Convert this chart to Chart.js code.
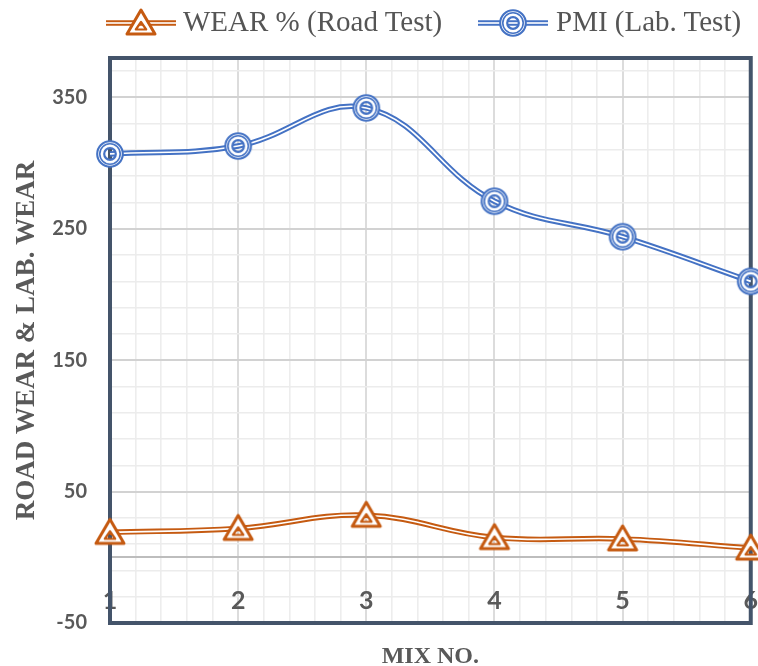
<!DOCTYPE html>
<html>
<head>
<meta charset="utf-8">
<script src="https://cdn.jsdelivr.net/npm/chart.js@4.4.1/dist/chart.umd.min.js"></script>
<style>
  html, body { margin: 0; padding: 0; background: #ffffff; }
  #wrap { position: relative; width: 758px; height: 666px; overflow: hidden; }
  #chart { position: absolute; left: 0; top: 0; }
  .lg-mark { position: absolute; top: 6px; }
  .lg-text { position: absolute; top: 5px; font: 29px "Liberation Serif", "Times New Roman", serif; line-height: 32px; color: #555555; white-space: nowrap; }
</style>
</head>
<body>
<div id="wrap">
  <canvas id="chart" width="758" height="666"></canvas>
  <div id="legend"></div>
</div>
<script>
// Mix numbers on the x axis
const mixNo = [1, 2, 3, 4, 5, 6];
// Road test wear (%) per mix
const wearRoad = [19, 22, 32, 15, 14, 7];
// Lab test PMI per mix
const pmiLab = [307, 313, 342, 271, 244, 210];
// Series names and labelled y ticks
const seriesNames = ['WEAR % (Road Test)', 'PMI (Lab. Test)'];
const yLabelTicks = [-50, 50, 150, 250, 350];

const ORANGE = '#c55a11';
const BLUE = '#4472c4';
const TEXT = '#595959';
const FRAME = '#44546a';

// Compound markers: outline shape with a smaller shape inside, white ring between
function makeMarker(shape, color) {
  const c = document.createElement('canvas');
  c.width = 36; c.height = 36;
  const g = c.getContext('2d');
  const cx = 18, cy = 18;
  g.strokeStyle = color;
  g.fillStyle = '#ffffff';
  g.lineJoin = 'round';
  if (shape === 'circle') {
    g.beginPath();
    g.arc(cx, cy, 12.5, 0, Math.PI * 2);
    g.arc(cx, cy, 5.8, 0, Math.PI * 2, true);
    g.fill('evenodd');
    g.lineWidth = 2.1;
    g.beginPath(); g.arc(cx, cy, 12.8, 0, Math.PI * 2); g.stroke();
    g.lineWidth = 1.6;
    g.beginPath(); g.arc(cx, cy, 10.2, 0, Math.PI * 2); g.stroke();
    g.lineWidth = 2.2;
    g.beginPath(); g.arc(cx, cy, 5.8, 0, Math.PI * 2); g.stroke();
  } else {
    const outer = [[cx, cy - 13], [cx + 14, cy + 11], [cx - 14, cy + 11]];
    const inner = [[cx, cy - 1], [cx + 5.2, cy + 6.5], [cx - 5.2, cy + 6.5]];
    const path = (pts) => { g.moveTo(pts[0][0], pts[0][1]); g.lineTo(pts[1][0], pts[1][1]); g.lineTo(pts[2][0], pts[2][1]); g.closePath(); };
    g.beginPath(); path(outer); path(inner); g.fill('evenodd');
    g.lineWidth = 3.0;
    g.beginPath(); path(outer); g.stroke();
    g.lineWidth = 2.2;
    g.beginPath(); path(inner); g.stroke();
  }
  return c;
}

const triMarker = makeMarker('triangle', ORANGE);
const circMarker = makeMarker('circle', BLUE);

const toPoints = (vals) => mixNo.map((m, i) => ({ x: m, y: vals[i] }));

const TENSION = 0.4;
function outerLine(label, vals, color, order) {
  return { label, data: toPoints(vals), borderColor: color, borderWidth: 5.5,
           pointRadius: 0, tension: TENSION, order, clip: false, fill: false };
}
function innerLine(label, vals, marker, order) {
  return { label, data: toPoints(vals), borderColor: '#ffffff', borderWidth: 1.6,
           pointStyle: marker, pointRadius: 12, tension: TENSION, order, clip: false, fill: false };
}

// y ticks every 20 from -50, plus the zero line
const yTickValues = [];
for (let v = -50; v <= 370; v += 20) yTickValues.push(v);
yTickValues.push(0);
yTickValues.sort((a, b) => a - b);

// x ticks every fifth of a mix step
const xTickValues = [];
for (let k = 0; k <= 25; k++) xTickValues.push(Math.round((1 + k * 0.2) * 10) / 10);

const framePlugin = {
  id: 'plotFrame',
  beforeDatasetsDraw(chart) {
    const { ctx, chartArea: a } = chart;
    ctx.save();
    ctx.strokeStyle = FRAME;
    ctx.lineWidth = 4;
    ctx.strokeRect(a.left, a.top, a.right - a.left, a.bottom - a.top);
    ctx.restore();
  }
};

const chart = new Chart(document.getElementById('chart'), {
  type: 'line',
  data: {
    datasets: [
      outerLine(seriesNames[0], wearRoad, ORANGE, 4),
      innerLine(seriesNames[0], wearRoad, triMarker, 3),
      outerLine(seriesNames[1], pmiLab, BLUE, 2),
      innerLine(seriesNames[1], pmiLab, circMarker, 1)
    ]
  },
  options: {
    responsive: false,
    animation: false,
    events: [],
    layout: { autoPadding: false, padding: { top: 58, right: 6, bottom: 0, left: 0 } },
    plugins: { legend: { display: false }, tooltip: { enabled: false } },
    scales: {
      x: {
        type: 'linear',
        min: 1,
        max: 6,
        afterBuildTicks(scale) { scale.ticks = xTickValues.map(v => ({ value: v })); },
        afterFit(scale) { scale.height = 43; },
        border: { display: false },
        grid: {
          drawTicks: false,
          color: (c) => Number.isInteger(c.tick.value) ? '#dcdcdc' : '#ededed',
          lineWidth: (c) => Number.isInteger(c.tick.value) ? 2 : 1.6
        },
        ticks: {
          autoSkip: false,
          maxRotation: 0,
          mirror: true,
          padding: 0,
          color: TEXT,
          font: { family: 'Lato', size: 25, weight: 'bold', lineHeight: 1.8 },
          callback: (v) => Number.isInteger(v) ? String(v) : ''
        },
        title: {
          display: true,
          text: 'MIX NO.',
          color: TEXT,
          font: { family: 'Liberation Serif', size: 24, weight: 'bold' },
          padding: { top: 0, bottom: -5 }
        }
      },
      y: {
        min: -50,
        max: 380,
        afterBuildTicks(scale) { scale.ticks = yTickValues.map(v => ({ value: v })); },
        afterFit(scale) { scale.width = 110; },
        border: { display: false },
        grid: {
          drawTicks: false,
          color: (c) => c.tick.value === 0 ? '#bdbdbd' : (yLabelTicks.includes(c.tick.value) ? '#d2d2d2' : '#ececec'),
          lineWidth: (c) => (c.tick.value === 0 || yLabelTicks.includes(c.tick.value)) ? 2 : 1.6
        },
        ticks: {
          autoSkip: false,
          padding: 23,
          color: TEXT,
          font: { family: 'Lato', size: 20, weight: 'bold' },
          callback: (v) => yLabelTicks.includes(v) ? String(v) : ''
        },
        title: {
          display: true,
          text: 'ROAD WEAR & LAB. WEAR',
          color: TEXT,
          font: { family: 'Liberation Serif', size: 27, weight: 'bold' },
          padding: { top: 11, bottom: 0 }
        }
      }
    }
  },
  plugins: [framePlugin]
});

// Legend: double line with the series marker, then the series name
function legendMark(color, marker) {
  const c = document.createElement('canvas');
  c.width = 70; c.height = 34;
  c.className = 'lg-mark';
  const g = c.getContext('2d');
  g.fillStyle = color;
  g.fillRect(0, 17 - 2.75, 70, 5.5);
  g.fillStyle = '#ffffff';
  g.fillRect(0, 17 - 0.8, 70, 1.6);
  g.drawImage(marker, 35 - marker.width / 2, 17 - marker.height / 2);
  return c;
}
const legendEl = document.getElementById('legend');
const legendItems = [
  { name: seriesNames[0], color: ORANGE, marker: triMarker, markLeft: 106, textLeft: 183 },
  { name: seriesNames[1], color: BLUE, marker: circMarker, markLeft: 478, textLeft: 556 }
];
legendItems.forEach(it => {
  const m = legendMark(it.color, it.marker);
  m.style.left = it.markLeft + 'px';
  legendEl.appendChild(m);
  const t = document.createElement('span');
  t.className = 'lg-text';
  t.style.left = it.textLeft + 'px';
  t.textContent = it.name;
  legendEl.appendChild(t);
});
</script>
</body>
</html>
